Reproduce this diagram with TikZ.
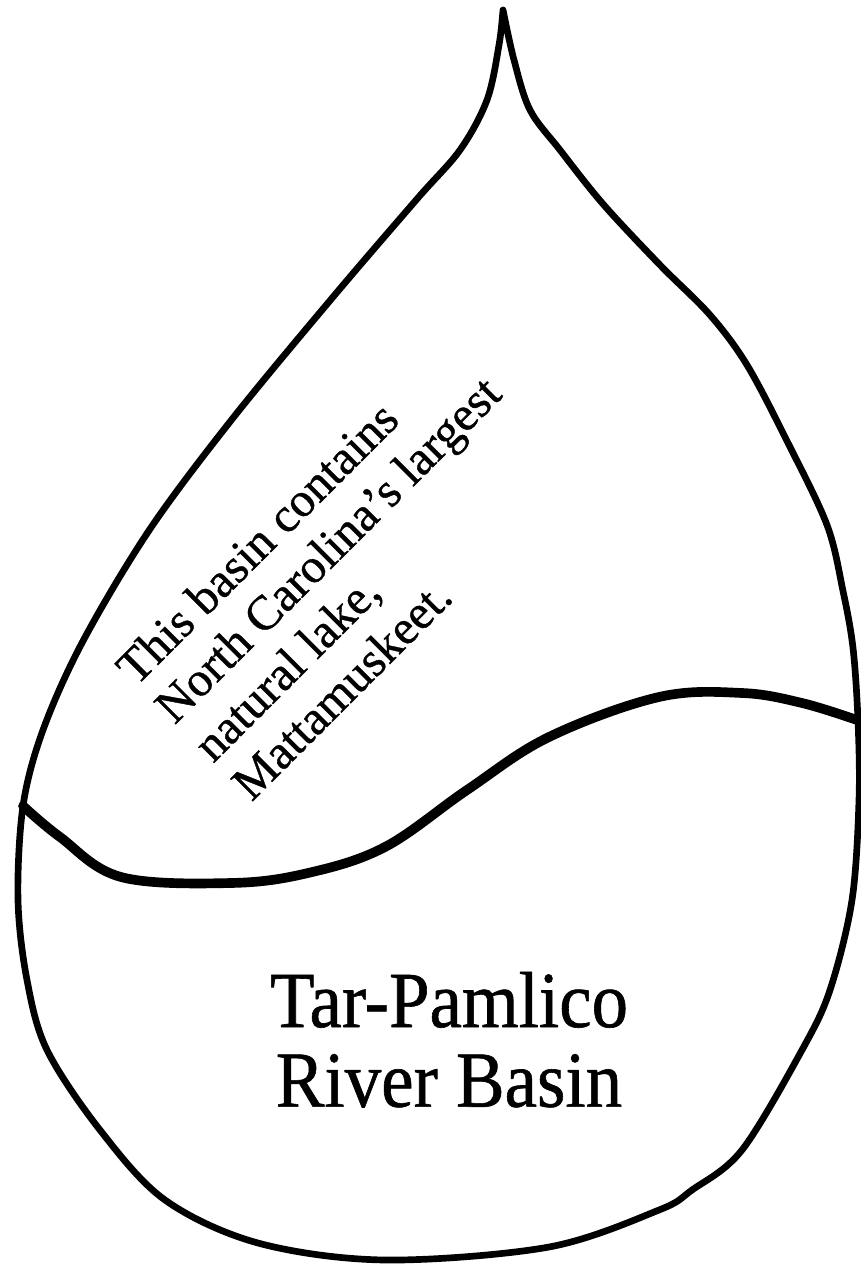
\documentclass[tikz,border=0pt]{standalone}
\usepackage{fontspec}
\usepackage{graphicx}
\setmainfont{Liberation Serif}
\newfontfamily\inkfont{Liberation Serif}[FakeBold=0.8]

\begin{document}
\begin{tikzpicture}[x=0.02cm, y=-0.02cm, line cap=round, line join=round]

  \useasboundingbox (0,0) rectangle (861,1270);

  % 1. Contour de la goutte (pointe en haut)
  \draw[line width=3.8pt] plot[smooth, tension=0.55] coordinates {
    (503,10) (514,60) (530,110) (560,150) (603,204) (660,265) (710,315)
    (747,365) (787,441) (827,525) (843,591) (853,648) (858,721) (859,800)
    (852,900) (830,990) (802,1050) (742,1150) (692,1190) (659,1210)
    (549,1247) (385,1260) (258,1243) (165,1200) (100,1130) (47,1050)
    (27,980) (18,900) (23,806) (43,730) (83,641) (150,529) (233,418)
    (333,297) (417,199) (460,150) (487,100) (499,45) (503,10)};

  % 2. Ligne d'eau ondulee
  \draw[line width=5.5pt] plot[smooth, tension=0.6] coordinates {
    (23,806) (60,837) (121,877) (231,883) (308,873) (385,847) (467,790)
    (549,737) (659,697) (742,693) (802,703) (857,720)};

  % 3. Texte incline
  \node[rotate=45, anchor=base west, inner sep=0pt] (fact) at (136,687)
    {\inkfont\fontsize{27.6}{31}\selectfont
     \begin{tabular}[t]{@{}l@{}}
       This basin contains\\
       North Carolina’s largest\\
       natural lake,\\
       Mattamuskeet.
     \end{tabular}};

  % 4. Nom du bassin
  \node[anchor=base, inner sep=0pt] (basin) at (449,1027)
    {\inkfont\fontsize{41.5}{41.6}\selectfont
     \scalebox{1}[1.09]{\begin{tabular}[t]{@{}c@{}}
       Tar-Pamlico\\
       River Basin
     \end{tabular}}};

\end{tikzpicture}
\end{document}
